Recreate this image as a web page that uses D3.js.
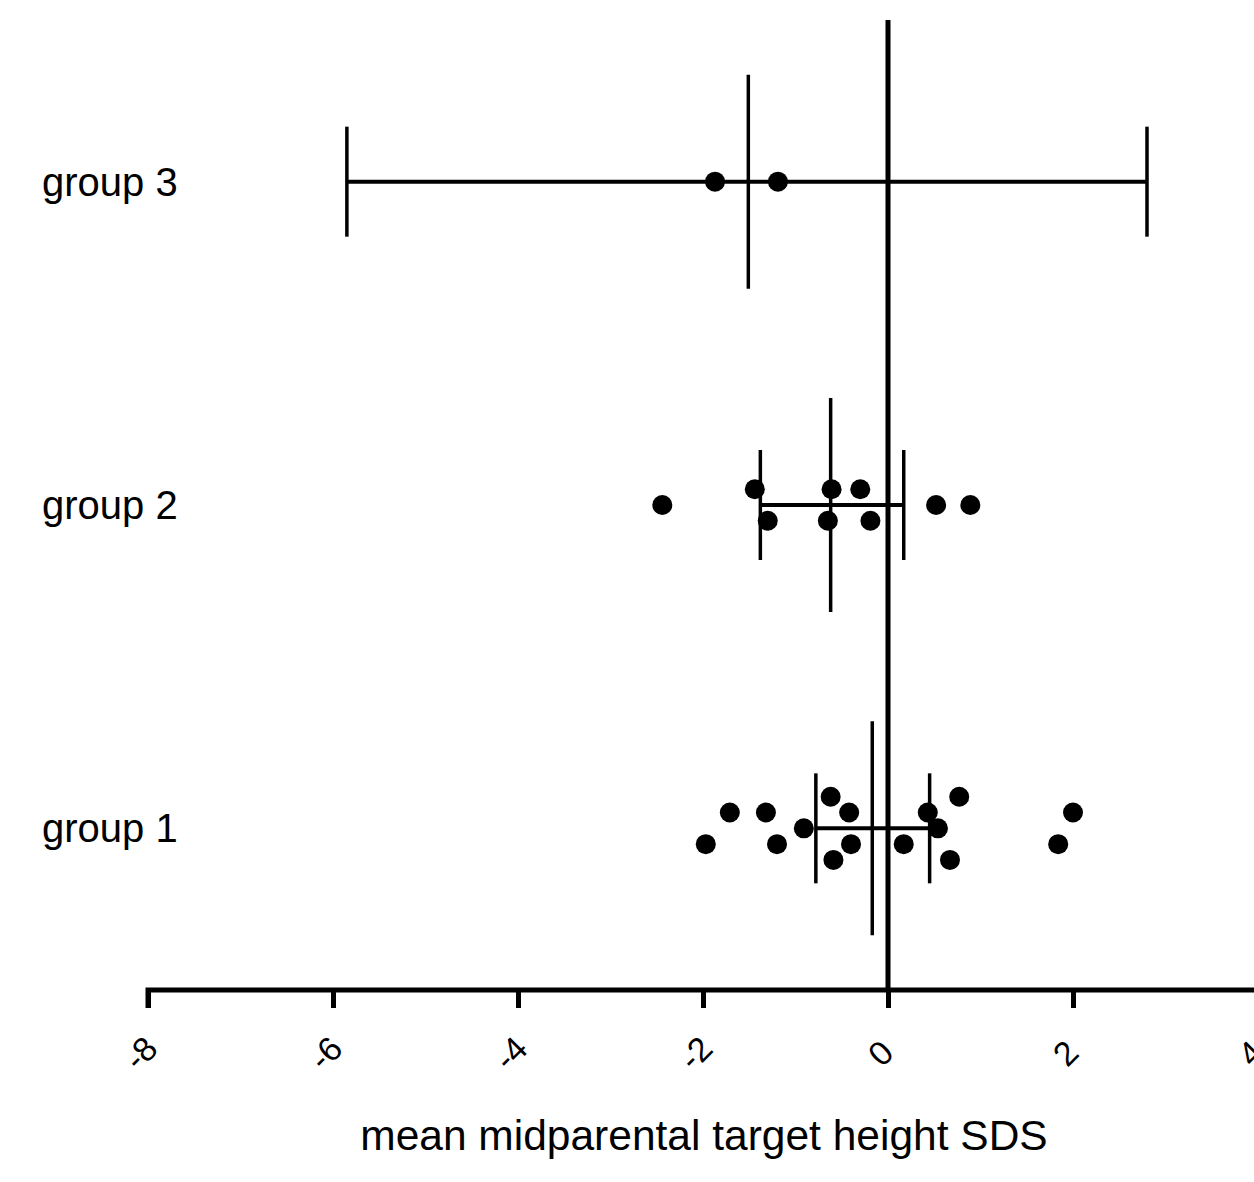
<!DOCTYPE html>
<html>
<head>
<meta charset="utf-8">
<script src="https://cdn.jsdelivr.net/npm/d3@7"></script>
<style>
  html, body { margin: 0; padding: 0; background: #fff; }
  svg { display: block; }
  text { font-family: "Liberation Sans", Arial, sans-serif; fill: #000; }
</style>
</head>
<body>
<div class="chart"></div>
<script>
// groups, bottom to top
const groups = ['group 1', 'group 2', 'group 3']

// individual values (SDS) and jitter row per point
const group1 = [-1.71, -1.32, -1.97, -1.20, -0.91, -0.62, -0.42, -0.40, -0.59, 0.17, 0.43, 0.54, 0.77, 0.67, 2.00, 1.84]
const group1Rows = [1, 1, -1, -1, 0, 2, 1, -1, -2, -1, 1, 0, 2, -2, 1, -1]
const group2 = [-2.44, -1.44, -0.61, -0.30, -1.30, -0.65, -0.19, 0.52, 0.89]
const group2Rows = [0, 1, 1, 1, -1, -1, -1, 0, 0]
const group3 = [-1.87, -1.19]
const group3Rows = [0, 0]

// mean and interval per group
const means = [-0.17, -0.62, -1.51]
const lows  = [-0.78, -1.38, -5.85]
const highs = [0.45, 0.17, 2.80]

const xTicks = [-8, -6, -4, -2, 0, 2, 4]
const xTitle = 'mean midparental target height SDS'

const width = 1254, height = 1182
const axisY = 990
const dotStep = 15.8

const svg = d3.select('.chart').append('svg')
  .attr('width', width)
  .attr('height', height)

const x = d3.scaleLinear().domain([-8, 4]).range([148, 1258])
const y = d3.scaleLinear().domain([0.5, 3.5]).range([axisY, 20])

const points = []
;[[group1, group1Rows], [group2, group2Rows], [group3, group3Rows]].forEach(([vals, rows], i) => {
  vals.forEach((v, j) => points.push({ g: i + 1, v: v, row: rows[j] }))
})

// zero reference line
svg.append('line')
  .attr('x1', x(0)).attr('x2', x(0))
  .attr('y1', y(3.5)).attr('y2', axisY)
  .attr('stroke', '#000').attr('stroke-width', 5)

// error bars
const bars = svg.append('g').attr('stroke', '#000')
groups.forEach((g, i) => {
  const cy = y(i + 1)
  bars.append('line')
    .attr('x1', x(lows[i])).attr('x2', x(highs[i]))
    .attr('y1', cy).attr('y2', cy)
    .attr('stroke-width', 4)
  ;[lows[i], highs[i]].forEach(v => {
    bars.append('line')
      .attr('x1', x(v)).attr('x2', x(v))
      .attr('y1', cy - 55).attr('y2', cy + 55)
      .attr('stroke-width', 3.5)
  })
  bars.append('line')
    .attr('x1', x(means[i])).attr('x2', x(means[i]))
    .attr('y1', cy - 107).attr('y2', cy + 107)
    .attr('stroke-width', 3.5)
})

// points
svg.append('g')
  .selectAll('circle')
  .data(points)
  .join('circle')
    .attr('cx', d => x(d.v))
    .attr('cy', d => y(d.g) - d.row * dotStep)
    .attr('r', 10)
    .attr('fill', '#000')

// group labels
svg.append('g')
  .selectAll('text')
  .data(groups)
  .join('text')
    .attr('x', 42)
    .attr('y', (d, i) => y(i + 1))
    .attr('dy', '0.35em')
    .style('font-size', '40px')
    .text(d => d)

// x axis (the rightmost label is cut by the edge, as in the original)
const xAxis = d3.axisBottom(x).tickValues(xTicks).tickSize(18).tickFormat(d3.format('d'))
const ax = svg.append('g')
  .attr('transform', `translate(0,${axisY})`)
  .call(xAxis)
ax.select('.domain').attr('stroke', '#000').attr('stroke-width', 5)
  .attr('d', `M${x(-8)},18V0H${width}`)
ax.selectAll('.tick line').attr('stroke', '#000').attr('stroke-width', 5)
ax.selectAll('.tick text')
  .attr('y', 0).attr('dy', 0)
  .attr('text-anchor', 'middle')
  .attr('dominant-baseline', 'central')
  .attr('transform', 'translate(-8,63) rotate(-45)')
  .style('font-size', '34px')
  .style('font-family', '"Liberation Sans", Arial, sans-serif')
  .attr('fill', '#000')
  .text(d => d3.format('d')(d).replace('−', '-'))

svg.append('text')
  .attr('x', 704)
  .attr('y', 1150)
  .attr('text-anchor', 'middle')
  .style('font-size', '42.5px')
  .text(xTitle)
</script>
</body>
</html>
